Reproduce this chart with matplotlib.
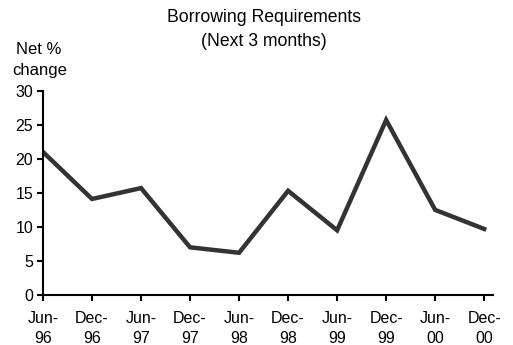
import matplotlib
matplotlib.use("Agg")
import matplotlib.pyplot as plt

# Survey data: net % change in borrowing requirements, half-yearly
periods = ["Jun-\n96", "Dec-\n96", "Jun-\n97", "Dec-\n97", "Jun-\n98",
           "Dec-\n98", "Jun-\n99", "Dec-\n99", "Jun-\n00", "Dec-\n00"]
net_change = [21.0, 14.1, 15.7, 7.0, 6.2, 15.3, 9.5, 25.7, 12.5, 9.7]
y_ticks = [0, 5, 10, 15, 20, 25, 30]

plt.rcParams["font.family"] = ["Liberation Sans", "DejaVu Sans"]

W, H = 513, 345
fig = plt.figure(figsize=(W / 100, H / 100), dpi=100)
ax = fig.add_axes([43 / W, 1 - 295 / H, (493 - 43) / W, (295 - 90.7) / H])

x = list(range(len(periods)))
ax.plot(x, net_change, color="#333333", linewidth=3.2, solid_joinstyle="miter")

ax.set_xlim(0, 9.18)
ax.set_ylim(0, 30)
ax.set_xticks(x)
ax.set_xticklabels(periods, fontsize=11.5, linespacing=1.45)
ax.set_yticks(y_ticks)
ax.set_yticklabels([str(v) for v in y_ticks], fontsize=11.5)

for side in ("top", "right"):
    ax.spines[side].set_visible(False)
for side in ("left", "bottom"):
    ax.spines[side].set_linewidth(1.5)
    ax.spines[side].set_color("black")
ax.tick_params(axis="both", direction="out", length=4, width=1.5, colors="black")
ax.tick_params(axis="x", pad=7.5)
ax.tick_params(axis="y", pad=3)

fig.text(264 / W, 1 - 17 / H, "Borrowing Requirements", ha="center", va="center", fontsize=12.7)
fig.text(264 / W, 1 - 41 / H, "(Next 3 months)", ha="center", va="center", fontsize=12.7)
fig.text(39 / W, 1 - 49 / H, "Net %", ha="center", va="center", fontsize=12)
fig.text(40 / W, 1 - 71 / H, "change", ha="center", va="center", fontsize=12)

fig.savefig("out.png", dpi=100, facecolor="white")
